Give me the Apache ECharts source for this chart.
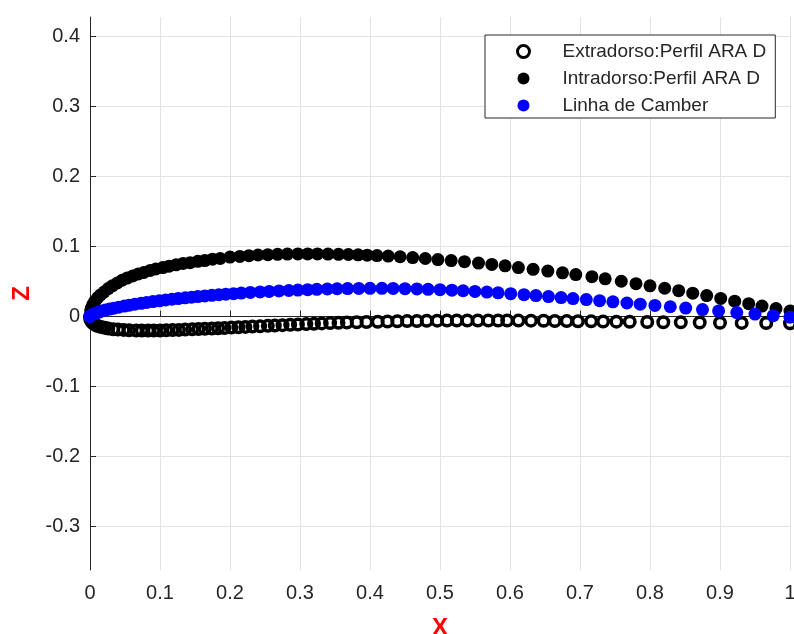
<!DOCTYPE html>
<html>
<head>
<meta charset="utf-8">
<script src="https://cdn.jsdelivr.net/npm/echarts@6/dist/echarts.min.js"></script>
<style>
  html, body { margin: 0; padding: 0; background: #fff; }
  #chart { width: 794px; height: 634px; }
</style>
</head>
<body>
<div id="chart"></div>
<script>
// upper surface (filled black dots, legend says "Intradorso")
var upperX = [0, 0.001, 0.002, 0.004, 0.007, 0.011, 0.015, 0.020, 0.026, 0.032, 0.039, 0.046, 0.053, 0.061, 0.069,
  0.077, 0.086, 0.094, 0.104, 0.113, 0.123, 0.133, 0.143, 0.154, 0.164, 0.175, 0.186, 0.200, 0.214, 0.227,
  0.240, 0.254, 0.268, 0.282, 0.297, 0.311, 0.325, 0.340, 0.355, 0.369, 0.383, 0.396, 0.410, 0.426, 0.443,
  0.461, 0.479, 0.497, 0.516, 0.535, 0.555, 0.574, 0.593, 0.612, 0.633, 0.654, 0.675, 0.694, 0.717, 0.736,
  0.759, 0.780, 0.800, 0.821, 0.841, 0.861, 0.881, 0.901, 0.921, 0.941, 0.960, 0.980, 1.000];
var upperZ = [0, 0.008, 0.012, 0.017, 0.022, 0.027, 0.031, 0.035, 0.040, 0.044, 0.048, 0.052, 0.055, 0.058, 0.061,
  0.063, 0.066, 0.068, 0.070, 0.072, 0.074, 0.076, 0.077, 0.079, 0.080, 0.082, 0.083, 0.085, 0.086, 0.087,
  0.088, 0.0885, 0.089, 0.0893, 0.0895, 0.0895, 0.0895, 0.0893, 0.089, 0.0887, 0.0883, 0.0878, 0.0872, 0.0864, 0.0855,
  0.0843, 0.083, 0.0815, 0.080, 0.0785, 0.0765, 0.0745, 0.0725, 0.070, 0.0675, 0.065, 0.0625, 0.060, 0.057, 0.054,
  0.0505, 0.047, 0.044, 0.0405, 0.037, 0.0335, 0.030, 0.026, 0.022, 0.0185, 0.015, 0.0115, 0.008];

// lower surface (open circles, legend says "Extradorso")
var lowerX = [0, 0.0005, 0.0015, 0.003, 0.005, 0.008, 0.011, 0.016, 0.021, 0.026, 0.033, 0.040, 0.048, 0.056, 0.066,
  0.074, 0.083, 0.091, 0.100, 0.109, 0.118, 0.127, 0.136, 0.146, 0.155, 0.164, 0.174, 0.183, 0.192, 0.202,
  0.212, 0.222, 0.232, 0.243, 0.254, 0.264, 0.275, 0.286, 0.297, 0.309, 0.320, 0.331, 0.343, 0.355, 0.367,
  0.381, 0.395, 0.411, 0.425, 0.439, 0.453, 0.467, 0.481, 0.496, 0.510, 0.524, 0.539, 0.554, 0.569, 0.583,
  0.596, 0.612, 0.630, 0.648, 0.664, 0.681, 0.697, 0.716, 0.733, 0.752, 0.771, 0.796, 0.819, 0.844, 0.871,
  0.900, 0.931, 0.966, 1.000];
var lowerZ = [0, -0.004, -0.006, -0.008, -0.010, -0.012, -0.0135, -0.015, -0.016, -0.017, -0.018, -0.0185, -0.019, -0.0195, -0.0198,
  -0.020, -0.020, -0.020, -0.0198, -0.0196, -0.0193, -0.019, -0.0186, -0.0182, -0.0178, -0.0174, -0.017, -0.0166, -0.0162, -0.0157,
  -0.0152, -0.0147, -0.0142, -0.0137, -0.0132, -0.0127, -0.0122, -0.0117, -0.0112, -0.0107, -0.0102, -0.0097, -0.0093, -0.0089, -0.0085,
  -0.0081, -0.0077, -0.0073, -0.007, -0.0067, -0.0064, -0.0062, -0.006, -0.0058, -0.0057, -0.0056, -0.0055, -0.0055, -0.0055, -0.0055,
  -0.0056, -0.0057, -0.0058, -0.006, -0.0062, -0.0064, -0.0066, -0.0068, -0.007, -0.0072, -0.0074, -0.0077, -0.008, -0.0082, -0.0085,
  -0.0087, -0.009, -0.0092, -0.0095];

// camber line (blue)
var camberX = [0, 0.0004, 0.0014, 0.003, 0.006, 0.009, 0.013, 0.017, 0.022, 0.028, 0.034, 0.041, 0.049, 0.056, 0.064,
  0.073, 0.081, 0.090, 0.099, 0.108, 0.117, 0.126, 0.136, 0.145, 0.154, 0.164, 0.174, 0.184, 0.194, 0.205,
  0.216, 0.229, 0.243, 0.256, 0.270, 0.284, 0.297, 0.311, 0.324, 0.339, 0.353, 0.368, 0.384, 0.400, 0.417,
  0.433, 0.450, 0.467, 0.483, 0.500, 0.517, 0.533, 0.550, 0.567, 0.583, 0.601, 0.620, 0.637, 0.655, 0.673,
  0.690, 0.709, 0.728, 0.747, 0.767, 0.786, 0.807, 0.829, 0.851, 0.875, 0.898, 0.924, 0.950, 0.976, 1.000];
var camberZ = [0, 0.001, 0.002, 0.003, 0.004, 0.005, 0.0065, 0.008, 0.0093, 0.0107, 0.012, 0.0135, 0.015, 0.0163, 0.0177,
  0.019, 0.0203, 0.0215, 0.0226, 0.0237, 0.0248, 0.0258, 0.0268, 0.0277, 0.0286, 0.0295, 0.0304, 0.0312, 0.032, 0.0328,
  0.0336, 0.0345, 0.0353, 0.036, 0.0367, 0.0373, 0.0379, 0.0384, 0.0389, 0.0394, 0.0398, 0.0401, 0.0403, 0.0404, 0.0404,
  0.0402, 0.0399, 0.0395, 0.039, 0.0384, 0.0377, 0.0369, 0.036, 0.035, 0.0339, 0.0327, 0.0313, 0.03, 0.0286, 0.0272,
  0.0258, 0.0243, 0.0227, 0.0211, 0.0194, 0.0178, 0.016, 0.0141, 0.0122, 0.0101, 0.0081, 0.0058, 0.0036, 0.0013, -0.0008];

var yTicks = [-0.3, -0.2, -0.1, 0, 0.1, 0.2, 0.3, 0.4];
var names = ["Extradorso:Perfil ARA D", "Intradorso:Perfil ARA D", "Linha de Camber"];

function pairs(xs, zs) {
  var out = [];
  for (var i = 0; i < xs.length; i++) out.push([xs[i], zs[i]]);
  return out;
}

var axisColor = "#262626";
var gridColor = "#e3e3e3";
var font = "'Liberation Sans', Arial, Helvetica, sans-serif";

var myChart = echarts.init(document.getElementById("chart"));
myChart.setOption({
  animation: false,
  backgroundColor: "#fff",
  textStyle: { fontFamily: font },
  grid: { left: 90, right: 4, top: 17, bottom: 64, outerBoundsMode: "none" },
  legend: {
    orient: "vertical",
    left: 485,
    top: 35,
    padding: [7, 9, 3, 31],
    itemGap: 8,
    itemWidth: 68,
    itemHeight: 12,
    backgroundColor: "#fff",
    borderColor: axisColor,
    borderWidth: 1,
    borderRadius: 0,
    textStyle: { fontSize: 19, color: axisColor, fontFamily: font },
    data: [
      { name: names[0], icon: "circle", itemStyle: { color: "rgba(0,0,0,0)", borderColor: "#000", borderWidth: 3 } },
      { name: names[1], icon: "circle", itemStyle: { color: "#000", borderWidth: 0 } },
      { name: names[2], icon: "circle", itemStyle: { color: "#0000ff", borderWidth: 0 } }
    ]
  },
  xAxis: {
    type: "value",
    min: 0,
    max: 1,
    interval: 0.1,
    name: "X",
    nameLocation: "middle",
    nameGap: 46,
    nameTextStyle: { color: "#ff0000", fontWeight: "bold", fontSize: 24, fontFamily: font },
    axisLine: { show: true, lineStyle: { color: axisColor, width: 1 } },
    axisTick: { show: true, inside: true, length: 6, lineStyle: { color: axisColor } },
    axisLabel: { color: axisColor, fontSize: 20, margin: 13, fontFamily: font },
    splitLine: { show: true, lineStyle: { color: gridColor, width: 1 } }
  },
  yAxis: {
    type: "value",
    min: -0.362,
    max: 0.428,
    name: "Z",
    nameLocation: "middle",
    nameGap: 55,
    nameTextStyle: { color: "#ff0000", fontWeight: "bold", fontSize: 24, fontFamily: font },
    axisLine: { show: true, lineStyle: { color: axisColor, width: 1 } },
    axisTick: { show: true, inside: true, length: 6, customValues: yTicks, lineStyle: { color: axisColor } },
    axisLabel: { color: axisColor, fontSize: 20, margin: 10, customValues: yTicks, fontFamily: font },
    splitLine: { show: true, lineStyle: { color: gridColor, width: 1 } }
  },
  series: [
    {
      name: names[0],
      type: "scatter",
      clip: false,
      symbol: "circle",
      symbolSize: 10.5,
      itemStyle: { color: "rgba(0,0,0,0)", borderColor: "#000", borderWidth: 3.5, opacity: 1 },
      data: pairs(lowerX, lowerZ)
    },
    {
      name: names[1],
      type: "scatter",
      clip: false,
      symbol: "circle",
      symbolSize: 13,
      itemStyle: { color: "#000", opacity: 1 },
      data: pairs(upperX, upperZ)
    },
    {
      name: names[2],
      type: "scatter",
      clip: false,
      symbol: "circle",
      symbolSize: 13,
      itemStyle: { color: "#0000ff", opacity: 1 },
      data: pairs(camberX, camberZ)
    }
  ]
});
</script>
</body>
</html>
